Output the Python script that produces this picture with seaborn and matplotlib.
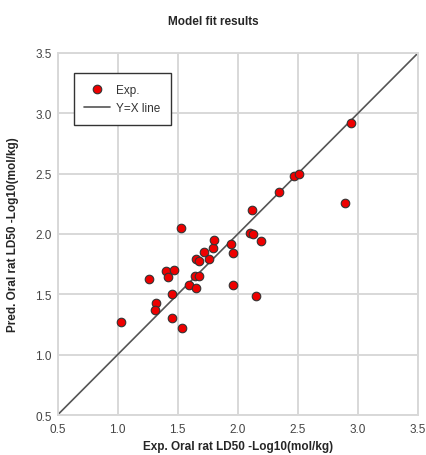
import matplotlib
matplotlib.use("Agg")
import matplotlib.pyplot as plt
import seaborn as sns
import pandas as pd
import numpy as np

exp_vals = [1.03, 1.26, 1.40, 1.42, 1.47, 1.32, 1.31, 1.45, 1.45, 1.54, 1.53,
            1.59, 1.65, 1.64, 1.68, 1.65, 1.68, 1.76, 1.72, 1.79, 1.80, 1.94,
            1.96, 1.96, 2.12, 2.10, 2.13, 2.19, 2.15, 2.34, 2.94, 2.47, 2.51, 2.89]
pred_vals = [1.27, 1.63, 1.69, 1.64, 1.70, 1.43, 1.37, 1.50, 1.30, 1.22, 2.05,
             1.58, 1.55, 1.65, 1.65, 1.79, 1.78, 1.79, 1.85, 1.88, 1.95, 1.92,
             1.84, 1.58, 2.20, 2.01, 2.00, 1.94, 1.49, 2.35, 2.92, 2.48, 2.50, 2.26]
line_x = [0.5, 3.5]
ticks = [0.5, 1.0, 1.5, 2.0, 2.5, 3.0, 3.5]

df = pd.DataFrame({"exp": exp_vals, "pred": pred_vals})
line_df = pd.DataFrame({"x": line_x, "y": line_x})

sns.set_theme(style="whitegrid")
plt.rcParams['font.family'] = ['Liberation Sans', 'DejaVu Sans']

fig = plt.figure(figsize=(4.27, 4.56), dpi=100)
ax = fig.add_axes([0.1347, 0.0877, 0.979 - 0.1347, 0.8816 - 0.0877])

sns.lineplot(data=line_df, x="x", y="y", ax=ax, color="#555555", linewidth=1.2,
             label="Y=X line", zorder=2)
sns.scatterplot(data=df, x="exp", y="pred", ax=ax, color="#ee0000", edgecolor="#333333",
                linewidth=0.8, s=38, label="Exp.", zorder=3)

ax.set_xlim(0.5, 3.5)
ax.set_ylim(0.5, 3.5)
ax.set_xticks(ticks)
ax.set_yticks(ticks)
ax.set_xticklabels([f"{t:.1f}" for t in ticks])
ax.set_yticklabels([f"{t:.1f}" for t in ticks])
ax.tick_params(axis="both", labelsize=8.5, labelcolor="#444444", length=0)
ax.tick_params(axis="x", pad=6)
ax.tick_params(axis="y", pad=4)
ax.grid(True, color="#d8d8d8", linewidth=1.4)
for sp in ax.spines.values():
    sp.set_color("#d8d8d8")
    sp.set_linewidth(1.4)

ax.set_xlabel("Exp. Oral rat LD50 -Log10(mol/kg)", fontsize=8.5, fontweight="bold", labelpad=3)
ax.set_ylabel("Pred. Oral rat LD50 -Log10(mol/kg)", fontsize=8.5, fontweight="bold", labelpad=12)
fig.suptitle("Model fit results", fontsize=8.5, fontweight="bold", y=0.965)

handles, labels = ax.get_legend_handles_labels()
order = [labels.index("Exp."), labels.index("Y=X line")]
leg = ax.legend([handles[i] for i in order], [labels[i] for i in order],
                loc="upper left", bbox_to_anchor=(0.045, 0.945), fontsize=8.5,
                frameon=True, fancybox=False, framealpha=1, borderpad=0.9,
                handlelength=2.2, handletextpad=0.5, labelspacing=0.55,
                borderaxespad=0)
leg.get_frame().set_edgecolor("#333333")
leg.get_frame().set_linewidth(1.0)
for t in leg.get_texts():
    t.set_color("#333333")

fig.savefig("out.png", dpi=100)
